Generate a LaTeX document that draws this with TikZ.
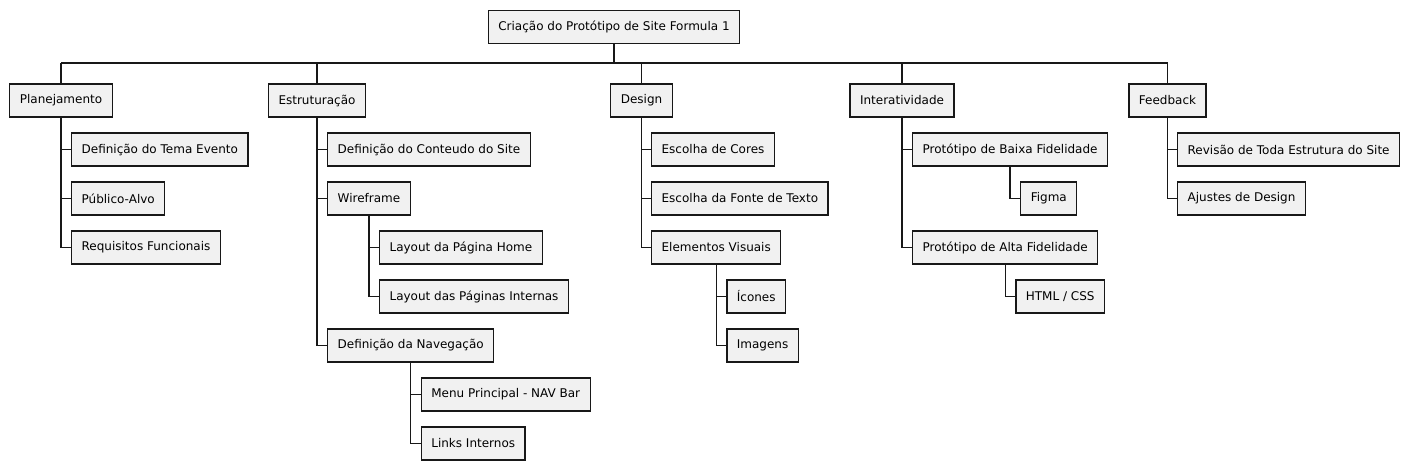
\documentclass[tikz,border=0pt]{standalone}
\usepackage{fontspec}
\setmainfont{DejaVu Sans}
\usetikzlibrary{calc}
\definecolor{boxfill}{HTML}{F1F1F1}
\definecolor{boxline}{HTML}{181818}
\begin{document}
\begin{tikzpicture}[x=1pt, y=-1pt,
    box/.style={draw=boxline, fill=boxfill, line width=1.3pt, inner xsep=10pt,
                minimum height=33pt, font=\fontsize{12}{14}\selectfont},
    link/.style={draw=boxline, line width=1.3pt}]
    \useasboundingbox (0,0) rectangle (1412,470);

    % Root and first level (x = column of the line, y = row in px)
    \node[box] (root) at (614,27) {Criação do Protótipo de Site Formula 1};
    \coordinate (bus) at (0,63);
    \foreach \x/\name/\txt in {61/plan/Planejamento, 317/estr/Estruturação,
        641.5/design/Design, 902/inter/Interatividade, 1167.5/feed/Feedback} {
        \node[box] (\name) at (\x,100.5) {\txt};
        \draw[link] (\name.north) -- (\name.north |- bus);
    }
    \draw[link] (root.south) -- (root.south |- bus);
    \draw[link] (plan.north |- bus) -- (feed.north |- bus);

    % Planejamento
    \node[box, anchor=west] (tema) at (71,149.5) {Definição do Tema Evento};
    \node[box, anchor=west] (publico) at (71,198.5) {Público-Alvo};
    \node[box, anchor=west] (requisitos) at (71,247.5) {Requisitos Funcionais};
    \foreach \n in {tema, publico, requisitos}
        \draw[link] (plan.south) |- (\n.west);

    % Estruturacao
    \node[box, anchor=west] (conteudo) at (327,149.5) {Definição do Conteudo do Site};
    \node[box, anchor=west] (wire) at (327,198.5) {Wireframe};
    \node[box, anchor=west] (nav) at (327,345.5) {Definição da Navegação};
    \foreach \n in {conteudo, wire, nav}
        \draw[link] (estr.south) |- (\n.west);
    \node[box, anchor=west] (home) at ($(wire.center |- 0,247.5)+(10,0)$) {Layout da Página Home};
    \node[box, anchor=west] (internas) at ($(wire.center |- 0,296.5)+(10,0)$) {Layout das Páginas Internas};
    \foreach \n in {home, internas}
        \draw[link] (wire.south) |- (\n.west);
    \node[box, anchor=west] (menu) at ($(nav.center |- 0,394.5)+(10,0)$) {Menu Principal - NAV Bar};
    \node[box, anchor=west] (links) at ($(nav.center |- 0,443.5)+(10,0)$) {Links Internos};
    \foreach \n in {menu, links}
        \draw[link] (nav.south) |- (\n.west);

    % Design
    \node[box, anchor=west] (cores) at (651,149.5) {Escolha de Cores};
    \node[box, anchor=west] (fonte) at (651,198.5) {Escolha da Fonte de Texto};
    \node[box, anchor=west] (visuais) at (651,247.5) {Elementos Visuais};
    \foreach \n in {cores, fonte, visuais}
        \draw[link] (design.south) |- (\n.west);
    \node[box, anchor=west] (icones) at ($(visuais.center |- 0,296.5)+(10,0)$) {Ícones};
    \node[box, anchor=west] (imagens) at ($(visuais.center |- 0,345.5)+(10,0)$) {Imagens};
    \foreach \n in {icones, imagens}
        \draw[link] (visuais.south) |- (\n.west);

    % Interatividade
    \node[box, anchor=west] (baixa) at (912,149.5) {Protótipo de Baixa Fidelidade};
    \node[box, anchor=west] (alta) at (912,247.5) {Protótipo de Alta Fidelidade};
    \foreach \n in {baixa, alta}
        \draw[link] (inter.south) |- (\n.west);
    \node[box, anchor=west] (figma) at ($(baixa.center |- 0,198.5)+(10,0)$) {Figma};
    \draw[link] (baixa.south) |- (figma.west);
    \node[box, anchor=west] (html) at ($(alta.center |- 0,296.5)+(10,0)$) {HTML / CSS};
    \draw[link] (alta.south) |- (html.west);

    % Feedback
    \node[box, anchor=west] (revisao) at (1177,149.5) {Revisão de Toda Estrutura do Site};
    \node[box, anchor=west] (ajustes) at (1177,198.5) {Ajustes de Design};
    \foreach \n in {revisao, ajustes}
        \draw[link] (feed.south) |- (\n.west);
\end{tikzpicture}
\end{document}
